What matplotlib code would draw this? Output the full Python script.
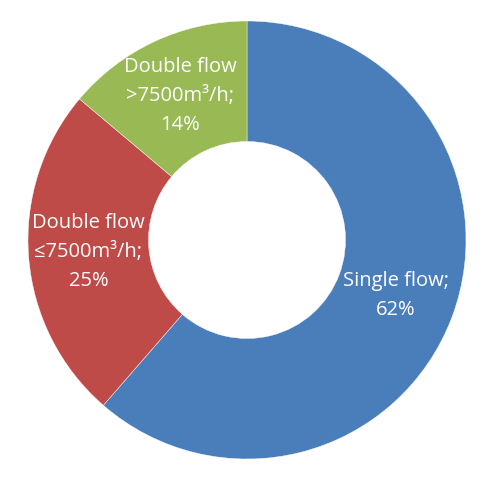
import matplotlib.pyplot as plt

categories = ["Single flow", "Double flow\n≤7500m³/h", "Double flow\n>7500m³/h"]
shares = [62, 25, 14]
colors = ["#4A7EBB", "#BE4B48", "#98B954"]

plt.rcParams['font.family'] = ['Open Sans', 'DejaVu Sans']

fig = plt.figure(figsize=(5, 4.79), dpi=100)
ax = fig.add_axes([0, 0, 1, 1])

labels = ["%s;\n%d%%" % (c, v) for c, v in zip(categories, shares)]
outer = 219
wedges, texts = ax.pie(shares, labels=labels, colors=colors, startangle=90,
                       counterclock=False, radius=outer, center=(247, 239),
                       labeldistance=159 / outer,
                       wedgeprops=dict(width=outer - 98.5, edgecolor='white', linewidth=0.3),
                       textprops=dict(color='white', fontsize=14.5, ha='center',
                                      va='center', linespacing=1.6))

ax.set_xlim(0, 500)
ax.set_ylim(0, 479)
ax.set_aspect('equal')
ax.axis('off')

fig.savefig("out.png", dpi=100)
